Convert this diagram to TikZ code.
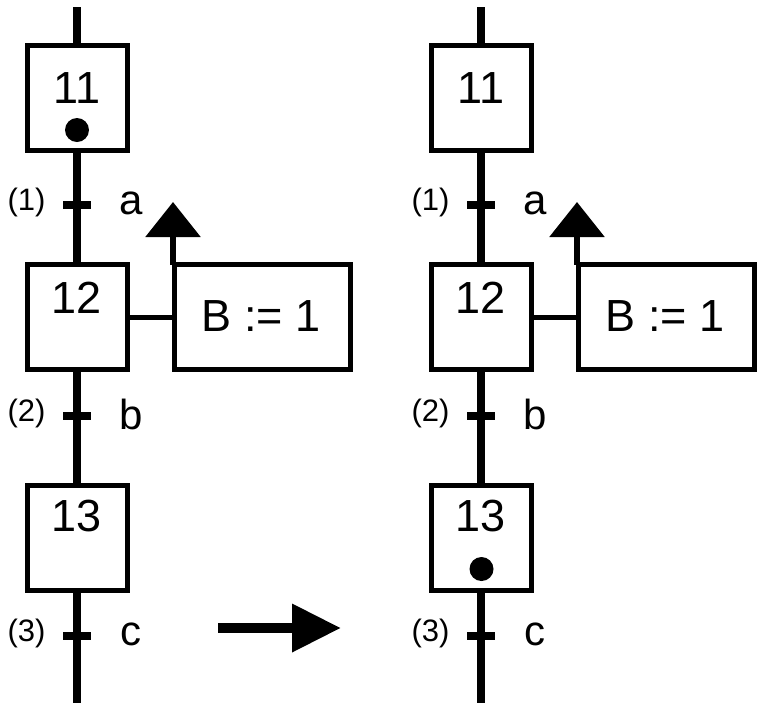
\documentclass[tikz,border=0pt]{standalone}
\usepackage{fontspec}
\setmainfont{Liberation Sans}
\usetikzlibrary{arrows.meta}
\tikzset{
  stepbox/.style={draw, line width=5pt, minimum width=100pt, minimum height=105pt, inner sep=0pt, outer sep=0pt},
  actbox/.style={draw, line width=5pt, minimum width=176pt, minimum height=105pt, inner sep=0pt, outer sep=0pt},
  flow/.style={line width=8pt},
  tickline/.style={line width=8pt},
  link/.style={line width=5pt},
  numtxt/.style={inner sep=0pt, font=\fontsize{45}{50}\selectfont},
  condtxt/.style={inner sep=0pt, font=\fontsize{42}{46}\selectfont},
  idtxt/.style={inner sep=0pt, font=\fontsize{31}{34}\selectfont},
  token/.style={circle, fill=black, minimum size=24pt, inner sep=0pt},
  actarrow/.style={line width=6pt, -{Triangle[length=35pt,width=54pt]}},
  bigarrow/.style={line width=10pt, -{Triangle[length=49pt,width=46pt]}},
}
\begin{document}
\begin{tikzpicture}[x=1pt,y=-1pt]
\useasboundingbox (0,0) rectangle (763,713);
\foreach \o/\p in {0/L,404/R}{
  \begin{scope}[xshift=\o pt]
  \coordinate (top\p) at (77,7);
  \coordinate (bot\p) at (77,703);
  \node[stepbox] (s11\p) at (77,98) {};
  \node[stepbox] (s12\p) at (77,317) {};
  \node[stepbox] (s13\p) at (77,538) {};
  \node[actbox] (act\p) at (262.5,317) {};
  \node[numtxt] (n11\p) at (77,88) {11};
  \node[numtxt] (n12\p) at (77,298) {12};
  \node[numtxt] (n13\p) at (77,516) {13};
  \node[numtxt] (atx\p) at (261,316) {B := 1};
  \coordinate (t1\p) at (77,205);
  \coordinate (t2\p) at (77,416);
  \coordinate (t3\p) at (77,636);
  \node[idtxt] (i1\p) at (26.5,202) {(1)};
  \node[idtxt] (i2\p) at (26.5,413) {(2)};
  \node[idtxt] (i3\p) at (26.5,633) {(3)};
  \node[condtxt] (c1\p) at (131,203) {a};
  \node[condtxt] (c2\p) at (131,414) {b};
  \node[condtxt] (c3\p) at (131,634) {c};
  \draw[flow] (top\p) -- (s11\p.north);
  \draw[flow] (s11\p.south) -- (s12\p.north);
  \draw[flow] (s12\p.south) -- (s13\p.north);
  \draw[flow] (s13\p.south) -- (bot\p);
  \foreach \t in {t1,t2,t3}{
    \draw[tickline] ([xshift=-14pt]\t\p) -- ([xshift=14pt]\t\p);
  }
  \draw[link] (s12\p.east) -- (act\p.west);
  \coordinate (as\p) at ([xshift=-1.5pt]act\p.north west);
  \coordinate (tip\p) at (as\p |- 0,202);
  \draw[actarrow] (as\p) -- (tip\p);
  \end{scope}
}
\node[token] (dotL) at (77,130) {};
\node[token] (dotR) at (481.5,569) {};
\coordinate (ba) at (218,628);
\coordinate (bb) at (341,628);
\draw[bigarrow] (ba) -- (bb);
\end{tikzpicture}
\end{document}
